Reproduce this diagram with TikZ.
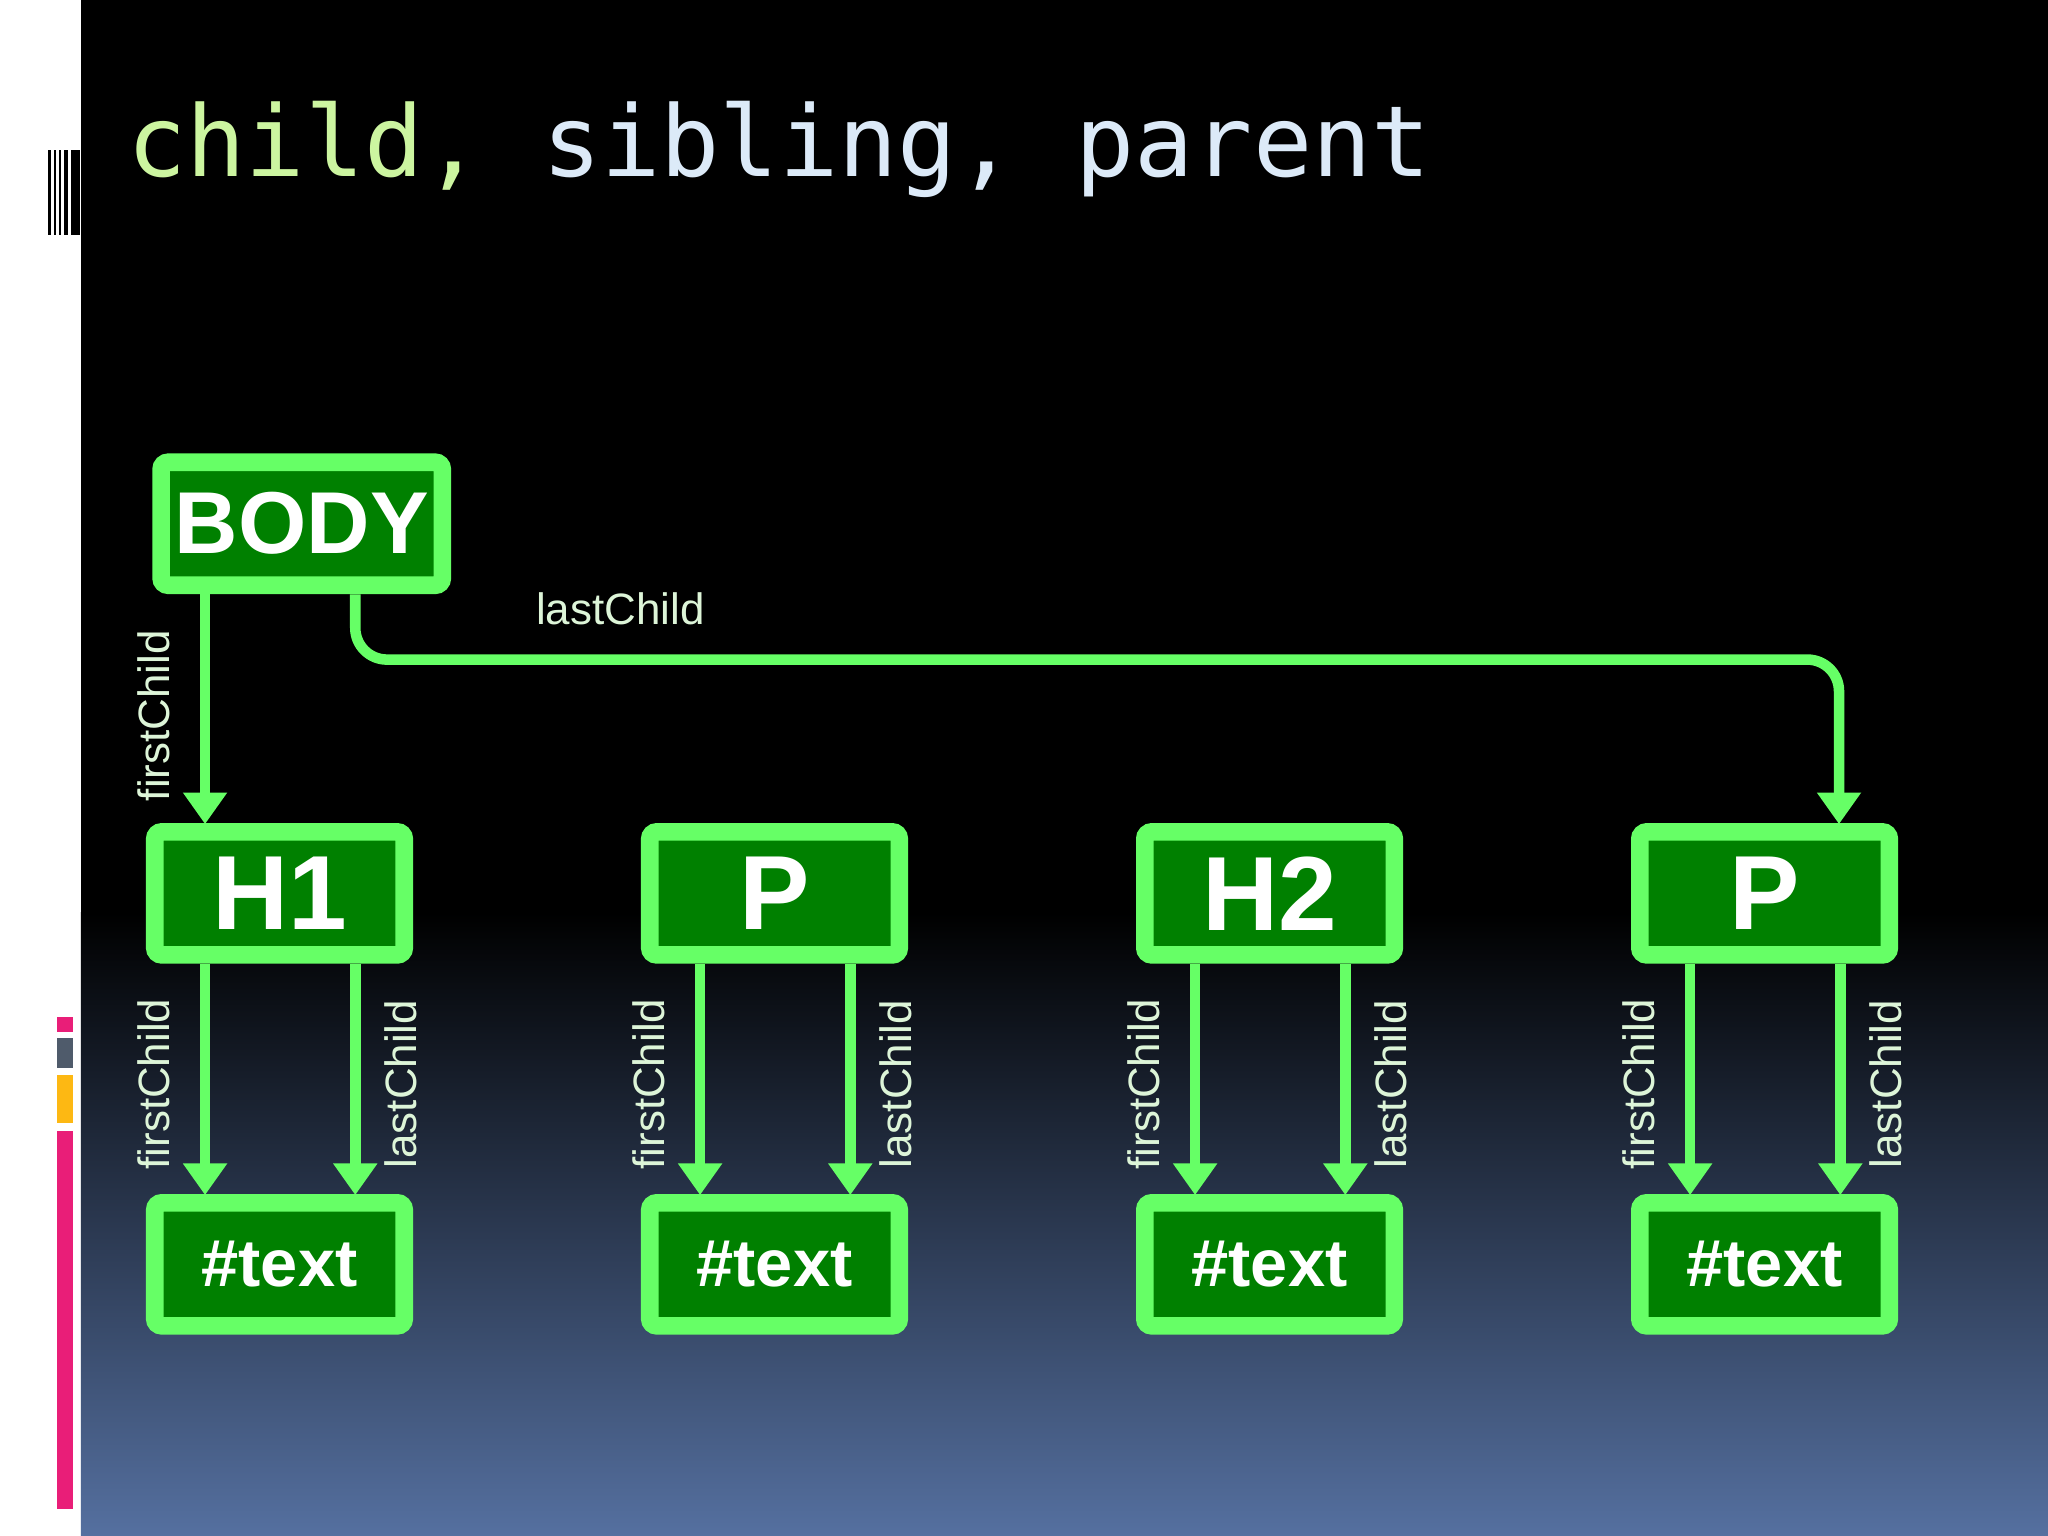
\documentclass[tikz,border=0pt]{standalone}
\usepackage{fontspec}
\setmainfont{Liberation Sans}
\newfontfamily\monof{DejaVu Sans Mono}
\usetikzlibrary{arrows.meta}
\definecolor{lg}{HTML}{66FF66}
\definecolor{dg}{HTML}{008000}
\definecolor{lbl}{HTML}{DDF5D8}
\definecolor{botblue}{HTML}{5570A0}
\definecolor{pinkb}{HTML}{E91E78}
\definecolor{grayb}{HTML}{4F5B6B}
\definecolor{orb}{HTML}{FDB813}
\definecolor{tgreen}{HTML}{CCF5A0}
\definecolor{tblue}{HTML}{DCEAF8}
\begin{document}
\begin{tikzpicture}[x=0.013061cm,y=-0.013061cm,
  box/.style={draw=lg,fill=dg,line width=5pt,rounded corners=2pt,minimum width=71pt,minimum height=35pt,inner sep=0pt,text=white,font=\bfseries\fontsize{30}{30}\selectfont},
  tbox/.style={box,font=\bfseries\fontsize{19}{19}\selectfont},
  arr/.style={draw=lg,line width=3pt,-{Triangle[width=12pt,length=9pt]}},
  lab/.style={text=lbl,font=\fontsize{12.5}{12.5}\selectfont,inner sep=1pt}]
\useasboundingbox (0,0) rectangle (1568,1176);
\fill[white] (0,0) rectangle (62,1176);
\fill[black] (62,0) rectangle (1568,700);
\shade[top color=black,bottom color=botblue] (62,699) rectangle (1568,1176);
% barcode
\foreach \a/\b in {37/39,41/43,45/47,49/52,54/61}{\fill[black] (\a,115) rectangle (\b,180);}
% colour bars
\fill[pinkb] (44,779) rectangle (56,790);
\fill[grayb] (44,795) rectangle (56,818);
\fill[orb] (44,823) rectangle (56,860);
\fill[pinkb] (44,866) rectangle (56,1155);
% title
\node[anchor=base west,inner sep=0pt,font=\monof\fontsize{28}{28}\selectfont] (title) at (97,135)
 {\textcolor{tgreen}{child,} \textcolor{tblue}{sibling, parent}};
% nodes
\node[box,minimum width=80pt,font=\bfseries\fontsize{25}{25}\selectfont] (body) at (231,401) {BODY};
\foreach \n/\x/\t in {h1/214/H1,p1/593/P,h2/972/H2,p2/1351/P}{
  \node[box] (\n) at (\x,684) {\t};
  \node[tbox] (t\n) at (\x,968) {\#text};
  \draw[arr] (\x-57,738) -- (\x-57,915);
  \draw[arr] (\x+58,738) -- (\x+58,915);
  \node[lab,rotate=90] at (\x-96,830) {firstChild};
  \node[lab,rotate=90] at (\x+93,830) {lastChild};
}
\draw[arr] (157,455) -- (157,631);
\node[lab,rotate=90] at (118,548) {firstChild};
\draw[arr,rounded corners=9pt] (272,455) -- (272,505) -- (1408,505) -- (1408,631);
\node[lab] at (475,466) {lastChild};
\end{tikzpicture}
\end{document}
